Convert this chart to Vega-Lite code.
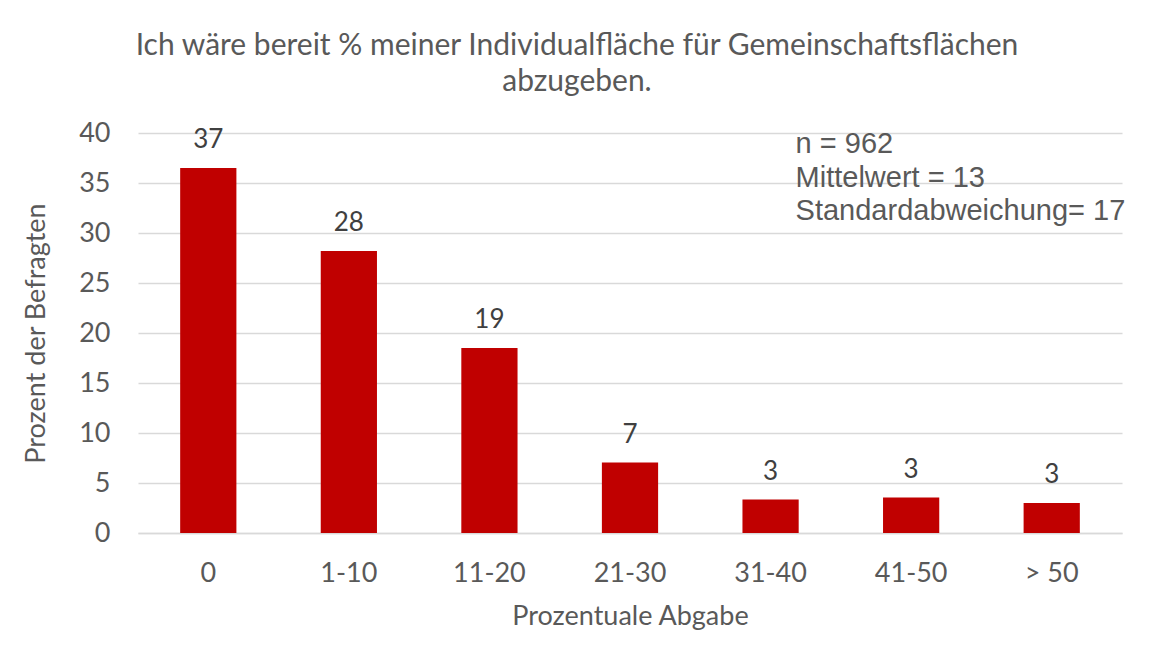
{
  "$schema": "https://vega.github.io/schema/vega-lite/v6.json",
  "width": 984,
  "height": 400,
  "autosize": "none",
  "padding": {"left": 138, "top": 133, "right": 27, "bottom": 130},
  "background": "white",
  "title": {
    "text": ["Ich wäre bereit % meiner Individualfläche für Gemeinschaftsflächen", "abzugeben."],
    "anchor": "middle",
    "dx": -53,
    "offset": 22,
    "font": "Lato",
    "fontSize": 30,
    "fontWeight": "normal",
    "color": "#595959",
    "lineHeight": 36
  },
  "data": {
    "values": [
      {"kategorie": "0", "prozent": 36.5, "label": "37"},
      {"kategorie": "1-10", "prozent": 28.2, "label": "28"},
      {"kategorie": "11-20", "prozent": 18.5, "label": "19"},
      {"kategorie": "21-30", "prozent": 7.05, "label": "7"},
      {"kategorie": "31-40", "prozent": 3.35, "label": "3"},
      {"kategorie": "41-50", "prozent": 3.55, "label": "3"},
      {"kategorie": "> 50", "prozent": 3.0, "label": "3"}
    ]
  },
  "encoding": {
    "x": {
      "field": "kategorie",
      "type": "nominal",
      "sort": null,
      "scale": {"paddingInner": 0.6, "paddingOuter": 0.3},
      "axis": {
        "title": "Prozentuale Abgabe",
        "labelAngle": 0,
        "domain": true,
        "domainColor": "#D9D9D9",
        "domainWidth": 1.5,
        "ticks": false,
        "labelPadding": 27,
        "titlePadding": 17,
        "labelFont": "Lato",
        "labelFontSize": 27,
        "labelColor": "#595959",
        "titleFont": "Lato",
        "titleFontSize": 27,
        "titleFontWeight": "normal",
        "titleColor": "#595959"
      }
    },
    "y": {
      "field": "prozent",
      "type": "quantitative",
      "scale": {"domain": [0, 40]},
      "axis": {
        "title": "Prozent der Befragten",
        "values": [0, 5, 10, 15, 20, 25, 30, 35, 40],
        "domain": false,
        "ticks": false,
        "grid": true,
        "gridColor": "#D9D9D9",
        "gridWidth": 1.5,
        "labelPadding": 28,
        "titlePadding": 28,
        "labelFont": "Lato",
        "labelFontSize": 27,
        "labelColor": "#595959",
        "titleFont": "Lato",
        "titleFontSize": 27,
        "titleFontWeight": "normal",
        "titleColor": "#595959"
      }
    }
  },
  "layer": [
    {"mark": {"type": "bar", "color": "#C00000"}},
    {
      "mark": {"type": "text", "baseline": "alphabetic", "dy": -20, "font": "Lato", "fontSize": 26, "color": "#404040"},
      "encoding": {"text": {"field": "label"}}
    },
    {
      "transform": [{"filter": "datum.kategorie === '31-40'"}],
      "mark": {
        "type": "text",
        "text": ["n = 962", "Mittelwert = 13", "Standardabweichung= 17"],
        "align": "left",
        "baseline": "top",
        "dx": 25,
        "dy": -3,
        "font": "Liberation Sans",
        "fontSize": 29,
        "lineHeight": 33.5,
        "color": "#595959"
      },
      "encoding": {
        "y": {"datum": 40}
      }
    }
  ],
  "config": {"view": {"stroke": null}}
}
